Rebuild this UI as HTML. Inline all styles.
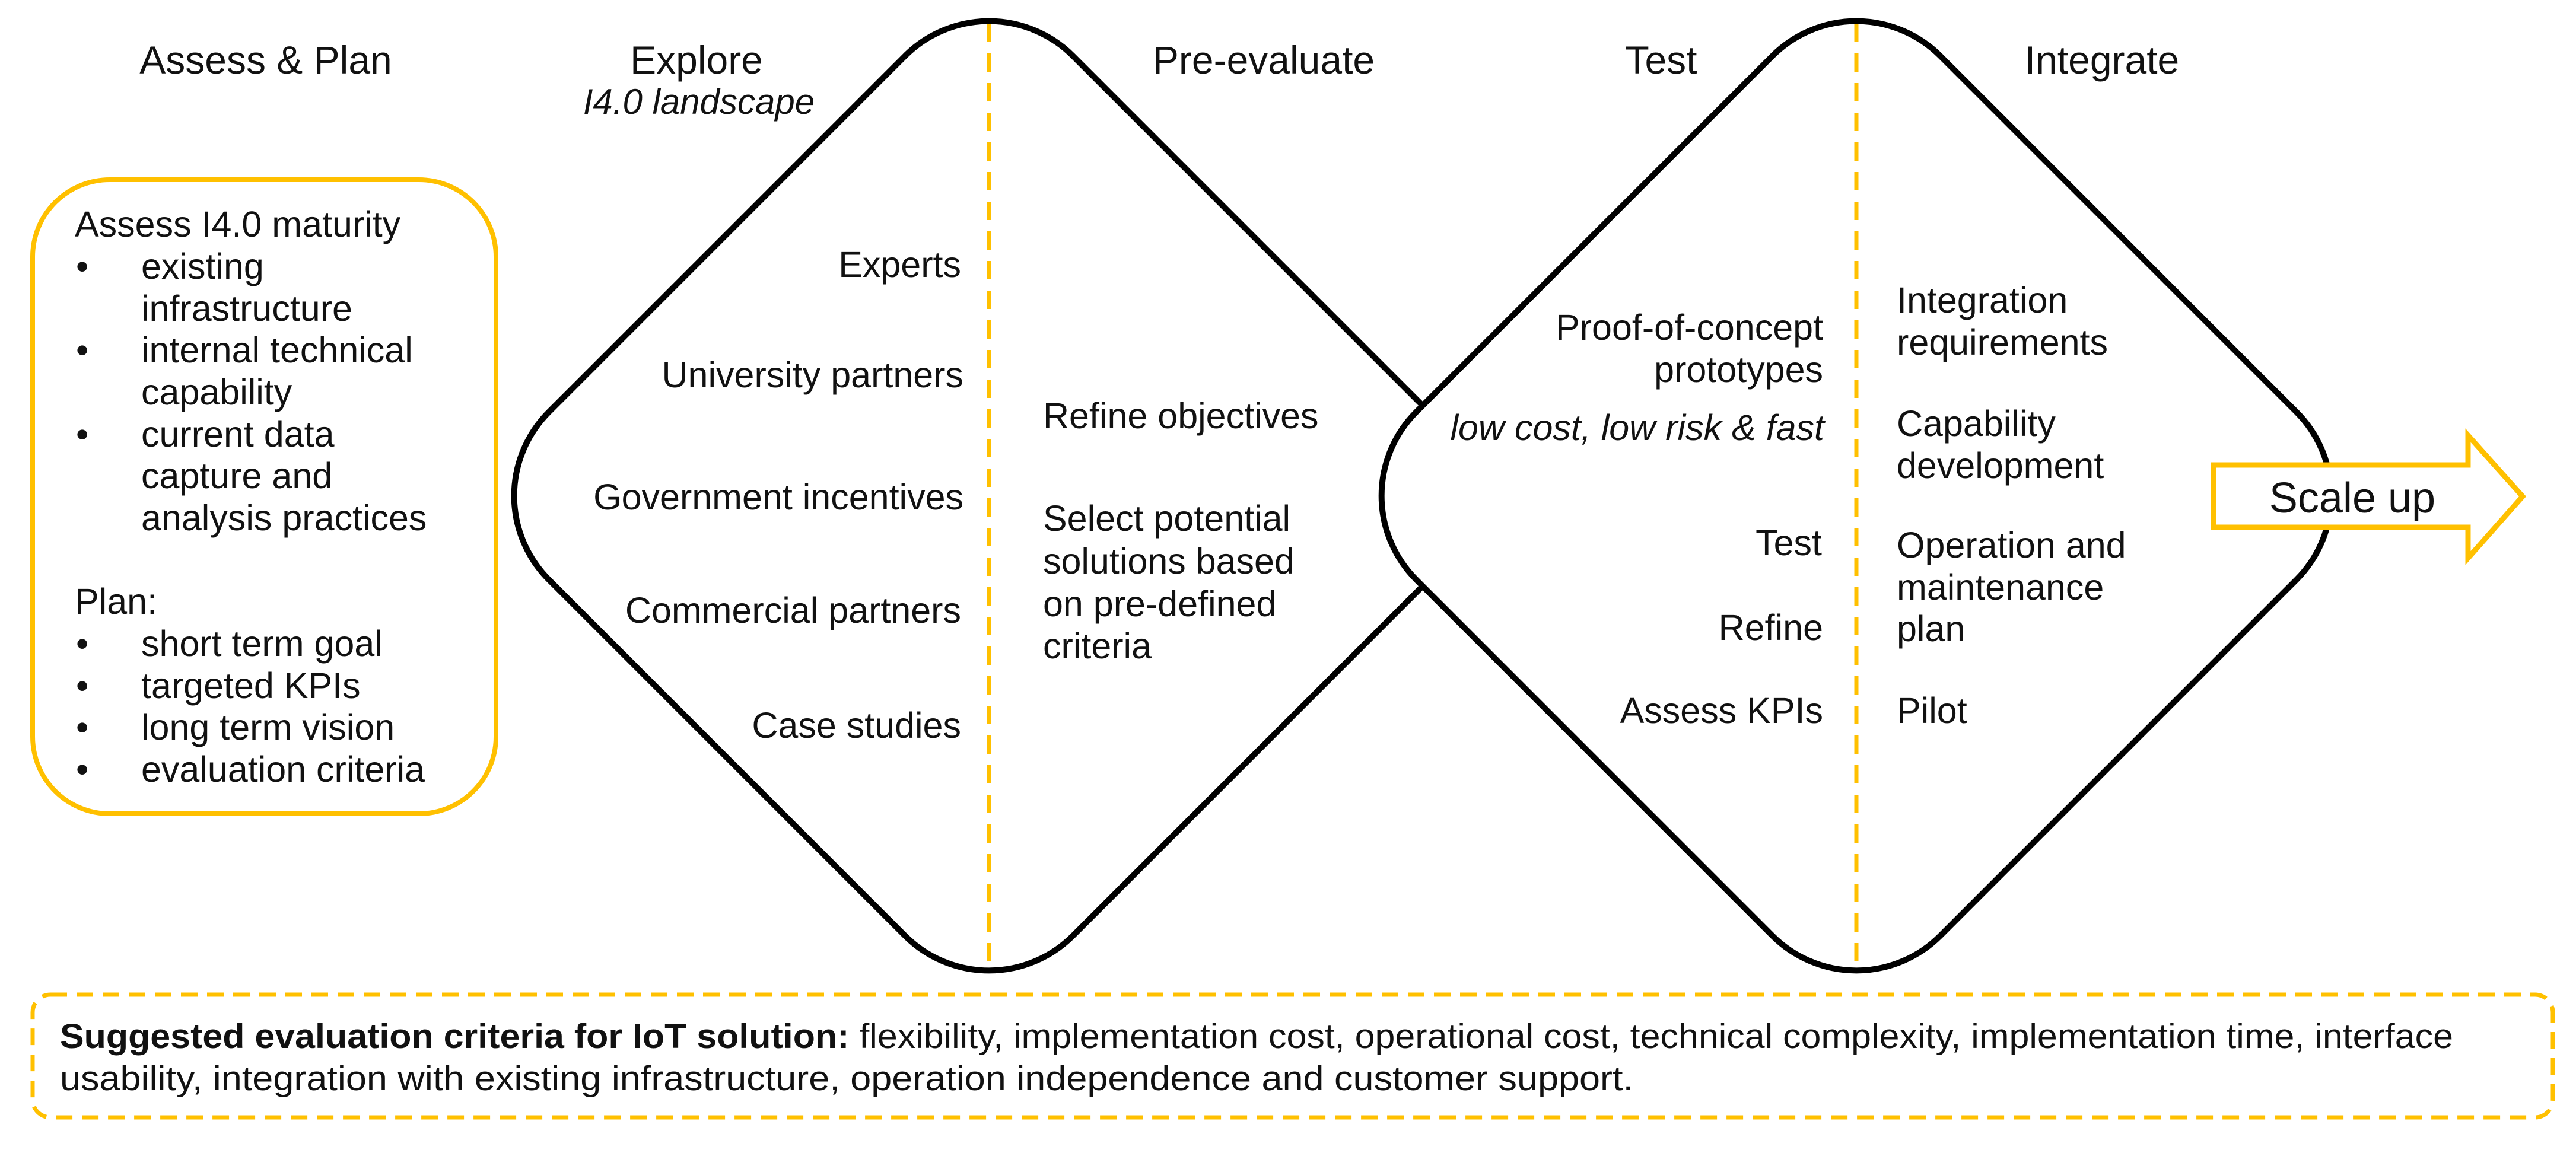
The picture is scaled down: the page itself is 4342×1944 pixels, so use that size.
<!DOCTYPE html>
<html><head><meta charset="utf-8"><style>
html,body{margin:0;padding:0;background:#fff}
svg{display:block}
text{font-family:"Liberation Sans",sans-serif;fill:#111}
</style></head><body>
<svg width="4342" height="1944" viewBox="0 0 4342 1944" xmlns="http://www.w3.org/2000/svg">
<rect width="4342" height="1944" fill="#fff"/>
<rect x="1042.5" y="211.5" width="1249" height="1249" rx="200" fill="#fff" stroke="#000" stroke-width="10" transform="rotate(45 1667 836)"/>
<rect x="2504.5" y="211.5" width="1249" height="1249" rx="200" fill="#fff" stroke="#000" stroke-width="10" transform="rotate(45 3129 836)"/>
<line x1="1667" y1="40" x2="1667" y2="1632" stroke="#FFC000" stroke-width="7" stroke-dasharray="31 19"/>
<line x1="3129" y1="40" x2="3129" y2="1632" stroke="#FFC000" stroke-width="7" stroke-dasharray="31 19"/>
<rect x="55" y="303" width="781" height="1069" rx="130" fill="none" stroke="#FFC000" stroke-width="8"/>
<rect x="55" y="1677" width="4248" height="207" rx="30" fill="none" stroke="#FFC000" stroke-width="7" stroke-dasharray="28 16"/>
<path d="M3731 784 L4160 784 L4160 734 L4252 837 L4160 941 L4160 889 L3731 889 Z" fill="#fff" stroke="#FFC000" stroke-width="9" stroke-linejoin="miter"/>
<text x="3965" y="864" font-size="72" text-anchor="middle">Scale up</text>

<g font-size="66" text-anchor="middle">
<text x="448" y="124">Assess &amp; Plan</text>
<text x="1174" y="124">Explore</text>
<text x="2130" y="124">Pre-evaluate</text>
<text x="2800" y="124">Test</text>
<text x="3543" y="124">Integrate</text>
</g>
<text x="1178" y="192" font-size="60" font-style="italic" text-anchor="middle">I4.0 landscape</text>

<g font-size="61">
<text x="126" y="399">Assess I4.0 maturity</text>
<text x="128" y="470">•</text><text x="238" y="470">existing</text>
<text x="238" y="541">infrastructure</text>
<text x="128" y="611">•</text><text x="238" y="611">internal technical</text>
<text x="238" y="682">capability</text>
<text x="128" y="753">•</text><text x="238" y="753">current data</text>
<text x="238" y="823">capture and</text>
<text x="238" y="894">analysis practices</text>
<text x="126" y="1035">Plan:</text>
<text x="128" y="1106">•</text><text x="238" y="1106">short term goal</text>
<text x="128" y="1177">•</text><text x="238" y="1177">targeted KPIs</text>
<text x="128" y="1247">•</text><text x="238" y="1247">long term vision</text>
<text x="128" y="1318">•</text><text x="238" y="1318">evaluation criteria</text>
</g>

<g font-size="61" text-anchor="end">
<text x="1620" y="467">Experts</text>
<text x="1624" y="653">University partners</text>
<text x="1624" y="859">Government incentives</text>
<text x="1620" y="1050">Commercial partners</text>
<text x="1620" y="1244">Case studies</text>
</g>
<g font-size="61">
<text x="1758" y="722">Refine objectives</text>
<text x="1758" y="895">Select potential</text>
<text x="1758" y="967">solutions based</text>
<text x="1758" y="1039">on pre-defined</text>
<text x="1758" y="1110">criteria</text>
</g>
<g font-size="61" text-anchor="end">
<text x="3073" y="573">Proof-of-concept</text>
<text x="3073" y="644">prototypes</text>
<text x="3075" y="742" font-style="italic">low cost, low risk &amp; fast</text>
<text x="3071" y="936">Test</text>
<text x="3073" y="1079">Refine</text>
<text x="3073" y="1219">Assess KPIs</text>
</g>
<g font-size="61">
<text x="3197" y="527">Integration</text>
<text x="3197" y="598">requirements</text>
<text x="3197" y="735">Capability</text>
<text x="3197" y="806">development</text>
<text x="3197" y="940">Operation and</text>
<text x="3197" y="1011">maintenance</text>
<text x="3197" y="1081">plan</text>
<text x="3197" y="1219">Pilot</text>
</g>
<text x="101" y="1767" font-size="58" textLength="4034" lengthAdjust="spacingAndGlyphs"><tspan font-weight="bold">Suggested evaluation criteria for IoT solution:</tspan> flexibility, implementation cost, operational cost, technical complexity, implementation time, interface</text>
<text x="101" y="1838" font-size="58" textLength="2652" lengthAdjust="spacingAndGlyphs">usability, integration with existing infrastructure, operation independence and customer support.</text>
</svg>
</body></html>
